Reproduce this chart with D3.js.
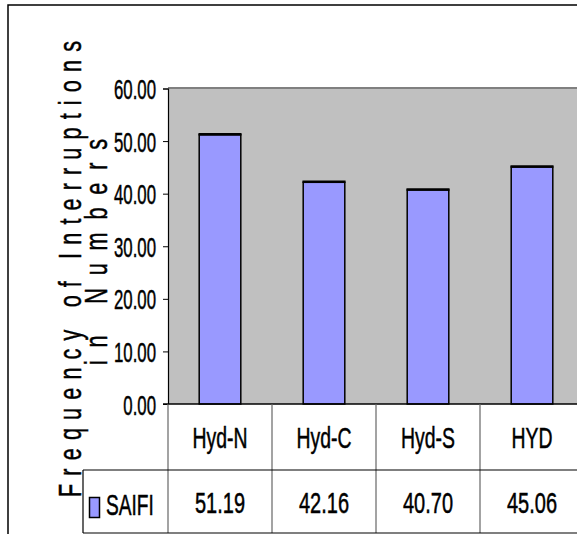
<!DOCTYPE html>
<html>
<head>
<meta charset="utf-8">
<script src="https://cdn.jsdelivr.net/npm/d3@7"></script>
<style>
  html, body { margin: 0; padding: 0; background: #fff; }
  svg { display: block; }
  text { font-family: "Liberation Sans", Arial, sans-serif; fill: #000; stroke: #000; stroke-width: 0.5px; }
</style>
</head>
<body>
<script>
// SAIFI per area
const categories = ["Hyd-N", "Hyd-C", "Hyd-S", "HYD"];
const seriesName = "SAIFI";
const saifi = [51.19, 42.16, 40.70, 45.06];
const yTicks = [0, 10, 20, 30, 40, 50, 60];
const titleLines = ["Frequency of Interruptions", "in Numbers"];

const W = 577, H = 534;
const plot = { left: 168, right: 584, top: 88.5, bottom: 404 };
const table = { row1: 470, bottom: 533, legendLeft: 83 };

const svg = d3.select("body").append("svg")
  .attr("width", W).attr("height", H);

svg.append("rect").attr("width", W).attr("height", H).attr("fill", "#fff");

// outer chart border (runs off the right and bottom edges)
svg.append("path")
  .attr("d", `M8,${H + 2} V5 H${W + 2}`)
  .attr("fill", "none").attr("stroke", "#000").attr("stroke-width", 1.5);

const x = d3.scaleBand().domain(categories)
  .range([plot.left, plot.right]).paddingInner(0.6).paddingOuter(0.3);
const y = d3.scaleLinear().domain([0, 60]).range([plot.bottom, plot.top]);

// condensed text helper: horizontal squeeze via scale
function label(g, px, py, s, size, sx, anchor) {
  return g.append("text")
    .attr("transform", `translate(${px},${py}) scale(${sx},1)`)
    .attr("text-anchor", anchor || "middle")
    .attr("font-size", size)
    .text(s);
}

// plot area
svg.append("rect")
  .attr("x", plot.left).attr("y", plot.top)
  .attr("width", plot.right - plot.left).attr("height", plot.bottom - plot.top)
  .attr("fill", "#C0C0C0");
svg.append("line")
  .attr("x1", plot.left).attr("x2", plot.right)
  .attr("y1", plot.top - 0.5).attr("y2", plot.top - 0.5)
  .attr("stroke", "#808080").attr("stroke-width", 2);

// bars
const bars = svg.append("g");
bars.selectAll("rect").data(saifi).join("rect")
  .attr("x", (d, i) => x(categories[i]))
  .attr("y", d => y(d))
  .attr("width", x.bandwidth())
  .attr("height", d => y(0) - y(d))
  .attr("fill", "#9999FF")
  .attr("stroke", "#000").attr("stroke-width", 1.5);
bars.selectAll("line").data(saifi).join("line")
  .attr("x1", (d, i) => x(categories[i]) - 0.75)
  .attr("x2", (d, i) => x(categories[i]) + x.bandwidth() + 0.75)
  .attr("y1", d => y(d) - 0.5).attr("y2", d => y(d) - 0.5)
  .attr("stroke", "#000").attr("stroke-width", 2.5);

// y axis
const sxTick = 0.6;
const yAxis = svg.append("g")
  .attr("transform", `translate(${plot.left},0)`)
  .call(d3.axisLeft(y).tickValues(yTicks).tickFormat(d3.format(".2f")).tickSize(5));
yAxis.select(".domain").attr("stroke", "#000").attr("stroke-width", 1.2);
yAxis.selectAll(".tick line").attr("stroke", "#000").attr("stroke-width", 1);
yAxis.selectAll(".tick text")
  .attr("font-size", 28)
  .attr("font-family", "Liberation Sans, Arial, sans-serif")
  .attr("fill", "#000")
  .attr("x", -12 / sxTick)
  .attr("dy", "0.36em")
  .attr("transform", `scale(${sxTick},1)`);

// x axis baseline
svg.append("line")
  .attr("x1", plot.left - 5).attr("x2", plot.right)
  .attr("y1", plot.bottom).attr("y2", plot.bottom)
  .attr("stroke", "#000").attr("stroke-width", 1.5);

// data table
const tbl = svg.append("g");
const step = x.step();
const colEdges = d3.range(categories.length + 1).map(i => plot.left + i * step);
tbl.selectAll("line.v").data(colEdges).join("line")
  .attr("class", "v")
  .attr("x1", d => d).attr("x2", d => d)
  .attr("y1", plot.bottom).attr("y2", table.bottom)
  .attr("stroke", "#666").attr("stroke-width", 1.2);
tbl.append("line")
  .attr("x1", table.legendLeft).attr("x2", W + 2)
  .attr("y1", table.row1).attr("y2", table.row1)
  .attr("stroke", "#000").attr("stroke-width", 1.2);
tbl.append("line")
  .attr("x1", table.legendLeft).attr("x2", W + 2)
  .attr("y1", table.bottom).attr("y2", table.bottom)
  .attr("stroke", "#000").attr("stroke-width", 1.2);
tbl.append("line")
  .attr("x1", table.legendLeft).attr("x2", table.legendLeft)
  .attr("y1", table.row1).attr("y2", table.bottom)
  .attr("stroke", "#000").attr("stroke-width", 1.2);

categories.forEach((c, i) => {
  const cx = x(c) + x.bandwidth() / 2;
  label(tbl, cx, 448, c, 29, 0.67);
  label(tbl, cx, 513, d3.format(".2f")(saifi[i]), 29, 0.69);
});

// legend key
tbl.append("rect")
  .attr("x", 89.5).attr("y", 497.5).attr("width", 10).attr("height", 20)
  .attr("fill", "#9999FF").attr("stroke", "#000").attr("stroke-width", 1.5);
label(tbl, 106, 515, seriesName, 29, 0.66, "start");

// axis title, two rotated letter-spaced lines
const sxTitle = 0.7;
const titleSpecs = [
  { text: titleLines[0], cx: 81, cy: 269, len: 456 },
  { text: titleLines[1], cx: 107, cy: 252, len: 226 }
];
titleSpecs.forEach(t => {
  svg.append("text")
    .attr("transform", `translate(${t.cx},${t.cy}) rotate(-90) scale(${sxTitle},1)`)
    .attr("text-anchor", "middle")
    .attr("font-size", 31)
    .attr("textLength", t.len / sxTitle)
    .attr("lengthAdjust", "spacing")
    .text(t.text);
});
</script>
</body>
</html>
